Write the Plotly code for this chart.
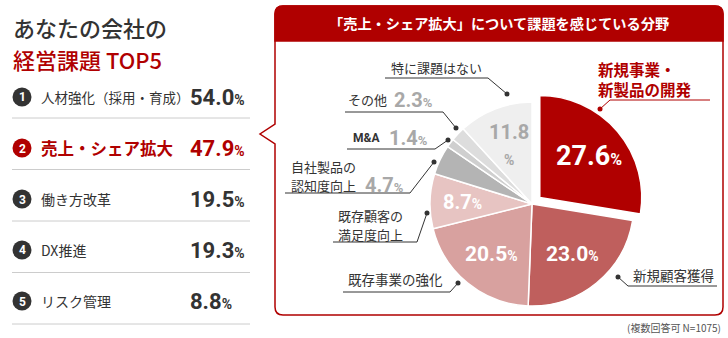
import plotly.graph_objects as go
import math

# ---------------- data ----------------
top5_labels = ["人材強化（採用・育成）", "売上・シェア拡大", "働き方改革", "DX推進", "リスク管理"]
top5_values = [54.0, 47.9, 19.5, 19.3, 8.8]

pie_labels = ["新規事業・新製品の開発", "新規顧客獲得", "既存事業の強化", "既存顧客の満足度向上",
              "自社製品の認知度向上", "M&A", "その他", "特に課題はない"]
pie_values = [27.6, 23.0, 20.5, 8.7, 4.7, 1.4, 2.3, 11.8]

title_line1 = "あなたの会社の"
title_line2 = "経営課題 TOP5"
box_title = "「売上・シェア拡大」について課題を感じている分野"
footnote = "(複数回答可 N=1075)"

# ---------------- style / layout ----------------
W, H = 728, 338
RED = "#b00000"
DARK = "#333333"
GREYTXT = "#a8a8a8"
slice_colors = ["#b00000", "#bf5f5d", "#d8a19f", "#e7c4c2", "#b4b4b4", "#cfcfcf", "#dddddd", "#efefef"]
pulls = [0.1, 0, 0, 0, 0, 0, 0, 0]
JP = "Noto Sans CJK JP"
NUM = "Roboto, Noto Sans CJK JP"

CX, CY, R = 532, 204, 102
PULLMAX = max(pulls)


def X(x):
    return x / W


def Y(y):
    return 1 - y / H


fig = go.Figure()

half = R * (1 + PULLMAX)
fig.add_trace(go.Pie(
    labels=pie_labels, values=pie_values, sort=False, direction="clockwise", rotation=0,
    pull=pulls, textinfo="none", hoverinfo="label+percent",
    marker=dict(colors=slice_colors, line=dict(color="white", width=1.5)),
    domain=dict(x=[(CX - half) / W, (CX + half) / W], y=[1 - (CY + half) / H, 1 - (CY - half) / H]),
    showlegend=False,
))

shapes = []
annotations = []


def ann(x, y, text, size, color, xanchor="left", weight="normal", family=JP, yanchor="middle", align="left"):
    annotations.append(dict(x=X(x), y=Y(y), xref="paper", yref="paper", text=text, showarrow=False,
                            xanchor=xanchor, yanchor=yanchor, align=align, borderpad=0,
                            font=dict(size=size, color=color, family=family, weight=weight)))


# ---------- left panel ----------
ann(12, 27, title_line1, 22, DARK, weight=500)
ann(12, 59, title_line2, 22, RED, weight=500)

for i, (lab, val) in enumerate(zip(top5_labels, top5_values)):
    yc = 97 + 51 * i
    hl = (i == 1)
    col = RED if hl else DARK
    shapes.append(dict(type="circle", xref="paper", yref="paper", x0=X(12.5), x1=X(31.5),
                       y0=Y(yc + 9.5), y1=Y(yc - 9.5), fillcolor=col, line=dict(width=0)))
    ann(22, yc + 0.5, str(i + 1), 12, "white", xanchor="center", weight="bold", family=NUM)
    if hl:
        ann(40, yc, lab, 16.5, RED, weight="bold")
    else:
        ann(40, yc, lab, 13.5 if i == 0 else 14, DARK)
    ann(189, yc, f"{val:.1f}<span style='font-size:14px'>%</span>", 22, col, weight="bold", family=NUM)
    sy = 118 + 51.5 * i
    shapes.append(dict(type="line", xref="paper", yref="paper", x0=X(12), x1=X(250), y0=Y(sy), y1=Y(sy),
                       line=dict(color="#cccccc", width=1)))

# ---------- right box ----------
box_path = ("M {a},{t} L {b},{t} Q {r},{t} {r},{t2} L {r},{bb2} Q {r},{bb} {b},{bb} L {a},{bb} "
            "Q {l},{bb} {l},{bb2} L {l},{n3} L {nx},{n2} L {l},{n1} L {l},{t2} Q {l},{t} {a},{t} Z")
l, r, t, bb = 275, 723, 6, 315
path = box_path.format(a=X(l + 8), b=X(r - 8), l=X(l), r=X(r), t=Y(t), t2=Y(t + 8), bb=Y(bb), bb2=Y(bb - 8),
                       n1=Y(124), n2=Y(134), n3=Y(144), nx=X(260))
shapes.append(dict(type="path", xref="paper", yref="paper", path=path, fillcolor="white",
                   line=dict(color=RED, width=1.5), layer="below"))
head_path = ("M {a},{t} L {b},{t} Q {r},{t} {r},{t2} L {r},{hb} L {l},{hb} L {l},{t2} Q {l},{t} {a},{t} Z"
             ).format(a=X(l + 8), b=X(r - 8), l=X(l), r=X(r), t=Y(t), t2=Y(t + 8), hb=Y(41))
shapes.append(dict(type="path", xref="paper", yref="paper", path=head_path, fillcolor=RED,
                   line=dict(color=RED, width=1.5), layer="below"))
ann(499, 23.5, box_title, 14.2, "white", xanchor="center", weight="bold")

# ---------- inside pie percentages (from data angles) ----------
inside = {0: (27, 16, "white"), 1: (21, 14, "white"), 2: (21, 14, "white"), 3: (20, 14, "white"),
          7: (20, 14, GREYTXT)}
total = sum(pie_values)
cum = 0
for i, v in enumerate(pie_values):
    mid = (cum + v / 2) / total * 2 * math.pi
    cum += v
    if i not in inside:
        continue
    size, psize, col = inside[i]
    rr = R * (0.63 if i != 3 else 0.68) + pulls[i] * R
    x = CX + rr * math.sin(mid)
    y = CY - rr * math.cos(mid)
    if i == 7:
        ann(x, y, f"{v:.1f}<br><span style='font-size:{psize}px'>%</span>", size, col, xanchor="center",
            weight="bold", family=NUM, align="center")
    else:
        ann(x, y, f"{v:.1f}<span style='font-size:{psize}px'>%</span>", size, col, xanchor="center",
            weight="bold", family=NUM)

# ---------- outside labels with leader lines ----------
# (dot, elbow, end) in pixels
leaders = [
    ((600, 109), (610, 100), (710, 100), RED),
    ((618, 277), (628, 286), (717, 286), DARK),
    ((458, 283), (450, 292), (343, 292), DARK),
    ((427, 213), (417, 242), (333, 242), DARK),
    ((434, 162), (410, 193), (285, 193), DARK),
    ((448, 140), (435, 149), (347, 149), DARK),
    ((456, 128), (443, 112), (345, 112), DARK),
    ((507, 94), (488, 78), (385, 78), DARK),
]
for dot, elb, end, col in leaders:
    p = f"M {X(dot[0])},{Y(dot[1])} L {X(elb[0])},{Y(elb[1])} L {X(end[0])},{Y(end[1])}"
    shapes.append(dict(type="path", xref="paper", yref="paper", path=p, line=dict(color=col, width=1)))
    shapes.append(dict(type="circle", xref="paper", yref="paper", x0=X(dot[0] - 2.5), x1=X(dot[0] + 2.5),
                       y0=Y(dot[1] + 2.5), y1=Y(dot[1] - 2.5), fillcolor=col, line=dict(width=0)))

pct = lambda v: f"{v:.1f}<span style='font-size:13px'>%</span>"
ann(597, 79, "新規事業・<br>新製品の開発", 15.5, RED, weight="bold")
ann(632, 275, pie_labels[1], 13.5, DARK)
ann(347, 279, pie_labels[2], 13.5, DARK)
ann(337, 215.5, "既存顧客の", 13, DARK)
ann(337, 234.5, "満足度向上", 13, DARK)
ann(290, 166, "自社製品の", 13, DARK)
ann(290, 185.5, "認知度向上", 13, DARK)
ann(364, 185, pct(pie_values[4]), 20, GREYTXT, weight="bold", family=NUM)
ann(352, 138, pie_labels[5], 12, DARK, weight="bold", family=NUM)
ann(388, 138, pct(pie_values[5]), 20, GREYTXT, weight="bold", family=NUM)
ann(347, 100, pie_labels[6], 13, DARK)
ann(393, 100, pct(pie_values[6]), 20, GREYTXT, weight="bold", family=NUM)
ann(390, 67, pie_labels[7], 13, DARK)

ann(722, 327, footnote, 10, "#555555", xanchor="right")

fig.update_layout(
    width=W, height=H, margin=dict(l=0, r=0, t=0, b=0),
    paper_bgcolor="white", plot_bgcolor="white",
    shapes=shapes, annotations=annotations, showlegend=False,
)
fig.write_html("out.html", config={"displayModeBar": False})
